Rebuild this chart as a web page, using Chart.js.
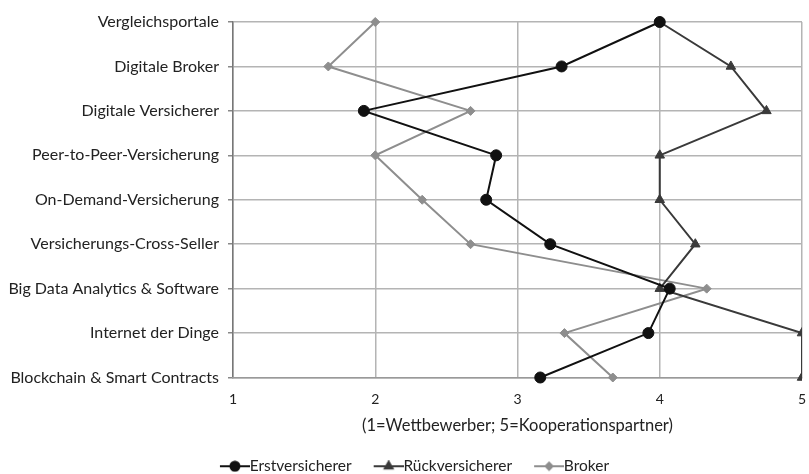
<!DOCTYPE html>
<html>
<head>
<meta charset="utf-8">
<script src="https://cdn.jsdelivr.net/npm/chart.js@4/dist/chart.umd.min.js"></script>
<style>
  html, body { margin: 0; padding: 0; background: #fff; }
  #wrap { width: 809px; height: 474px; }
</style>
</head>
<body>
<div id="wrap"><canvas id="chart"></canvas></div>
<script>
// Kategorien (von oben nach unten)
const kategorien = [
    "Vergleichsportale",
    "Digitale Broker",
    "Digitale Versicherer",
    "Peer-to-Peer-Versicherung",
    "On-Demand-Versicherung",
    "Versicherungs-Cross-Seller",
    "Big Data Analytics & Software",
    "Internet der Dinge",
    "Blockchain & Smart Contracts"
];

const erstversicherer = [4.0, 3.31, 1.92, 2.85, 2.78, 3.23, 4.07, 3.92, 3.16];
const rueckversicherer = [4.0, 4.5, 4.75, 4.0, 4.0, 4.25, 4.0, 5.0, 5.0];
const broker = [2.0, 1.67, 2.67, 2.0, 2.33, 2.67, 4.33, 3.33, 3.67];

const xTicks = [1, 2, 3, 4, 5];
const xTitel = "(1=Wettbewerber; 5=Kooperationspartner)";

const FONT = "Lato";
const LEGENDE_FONT = 15.5;
const SYMBOL_BREITE = 41;

// Legendensymbol: Linie mit Marker, läuft bis direkt an den Text heran
function legendenSymbol(farbe, stil, radius) {
    const c = document.createElement("canvas");
    c.width = SYMBOL_BREITE + 16;
    c.height = 12;
    const ctx = c.getContext("2d");
    const ende = c.width;
    ctx.strokeStyle = farbe;
    ctx.lineWidth = 2;
    ctx.beginPath();
    ctx.moveTo(ende - 30, 6);
    ctx.lineTo(ende, 6);
    ctx.stroke();
    Chart.helpers.drawPoint(ctx, {
        pointStyle: stil,
        radius: radius,
        borderWidth: 1,
        rotation: 0
    }, ende - 15, 6);
    ctx.fillStyle = farbe;
    ctx.fill();
    return c;
}

function serie(label, daten, farbe, stil, radius) {
    return {
        label,
        data: daten,
        borderColor: farbe,
        backgroundColor: farbe,
        borderWidth: 2,
        pointStyle: stil,
        pointRadius: radius,
        pointHoverRadius: radius,
        pointBorderWidth: 1,
        tension: 0,
        fill: false
    };
}

const datasets = [
    serie("Erstversicherer", erstversicherer, "#111111", "circle", 5.5),
    serie("Rückversicherer", rueckversicherer, "#3a3a3a", "triangle", 5.5),
    serie("Broker", broker, "#8e8e8e", "rectRot", 4.5)
];

new Chart(document.getElementById("chart"), {
    type: "line",
    data: { labels: kategorien, datasets },
    options: {
        indexAxis: "y",
        responsive: true,
        maintainAspectRatio: false,
        animation: false,
        // Legende etwas tiefer setzen als Chart.js es von sich aus tut
        layout: { padding: { left: 8, right: 7, top: 22, bottom: -10 } },
        scales: {
            y: {
                type: "category",
                offset: false,
                grid: {
                    color: "#b4b4b4",
                    lineWidth: 1.5,
                    tickLength: 5,
                    tickColor: "#888"
                },
                border: { color: "#777", width: 1.5 },
                ticks: {
                    color: "#222",
                    font: { family: FONT, size: 16 },
                    padding: 9
                },
                afterFit(scale) {
                    scale.width = 225;
                    scale.paddingTop = 0;
                    scale.paddingBottom = 0;
                }
            },
            x: {
                type: "linear",
                min: 1,
                max: 5,
                afterBuildTicks(scale) { scale.ticks = xTicks.map(v => ({ value: v })); },
                afterFit(scale) {
                    scale.height = 78;
                    scale.paddingLeft = 0;
                    scale.paddingRight = 0;
                },
                grid: {
                    color: "#b4b4b4",
                    lineWidth: 1.5,
                    drawTicks: false
                },
                border: { color: "#999", width: 1.5 },
                ticks: {
                    color: "#222",
                    font: { family: FONT, size: 14 },
                    padding: 14
                },
                title: {
                    display: true,
                    text: xTitel,
                    color: "#222",
                    font: { family: FONT, size: 16.5 },
                    padding: { top: 0, bottom: 20 }
                }
            }
        },
        plugins: {
            tooltip: { enabled: false },
            legend: {
                position: "bottom",
                labels: {
                    color: "#222",
                    font: { family: FONT, size: LEGENDE_FONT },
                    usePointStyle: true,
                    pointStyleWidth: SYMBOL_BREITE,
                    padding: 3,
                    generateLabels(chart) {
                        return chart.data.datasets.map((ds, i) => ({
                            text: ds.label,
                            fontColor: "#222",
                            pointStyle: legendenSymbol(ds.borderColor, ds.pointStyle, ds.pointRadius - 1),
                            strokeStyle: ds.borderColor,
                            fillStyle: ds.borderColor,
                            lineWidth: 0,
                            hidden: false,
                            datasetIndex: i
                        }));
                    }
                }
            }
        }
    }
});
</script>
</body>
</html>
